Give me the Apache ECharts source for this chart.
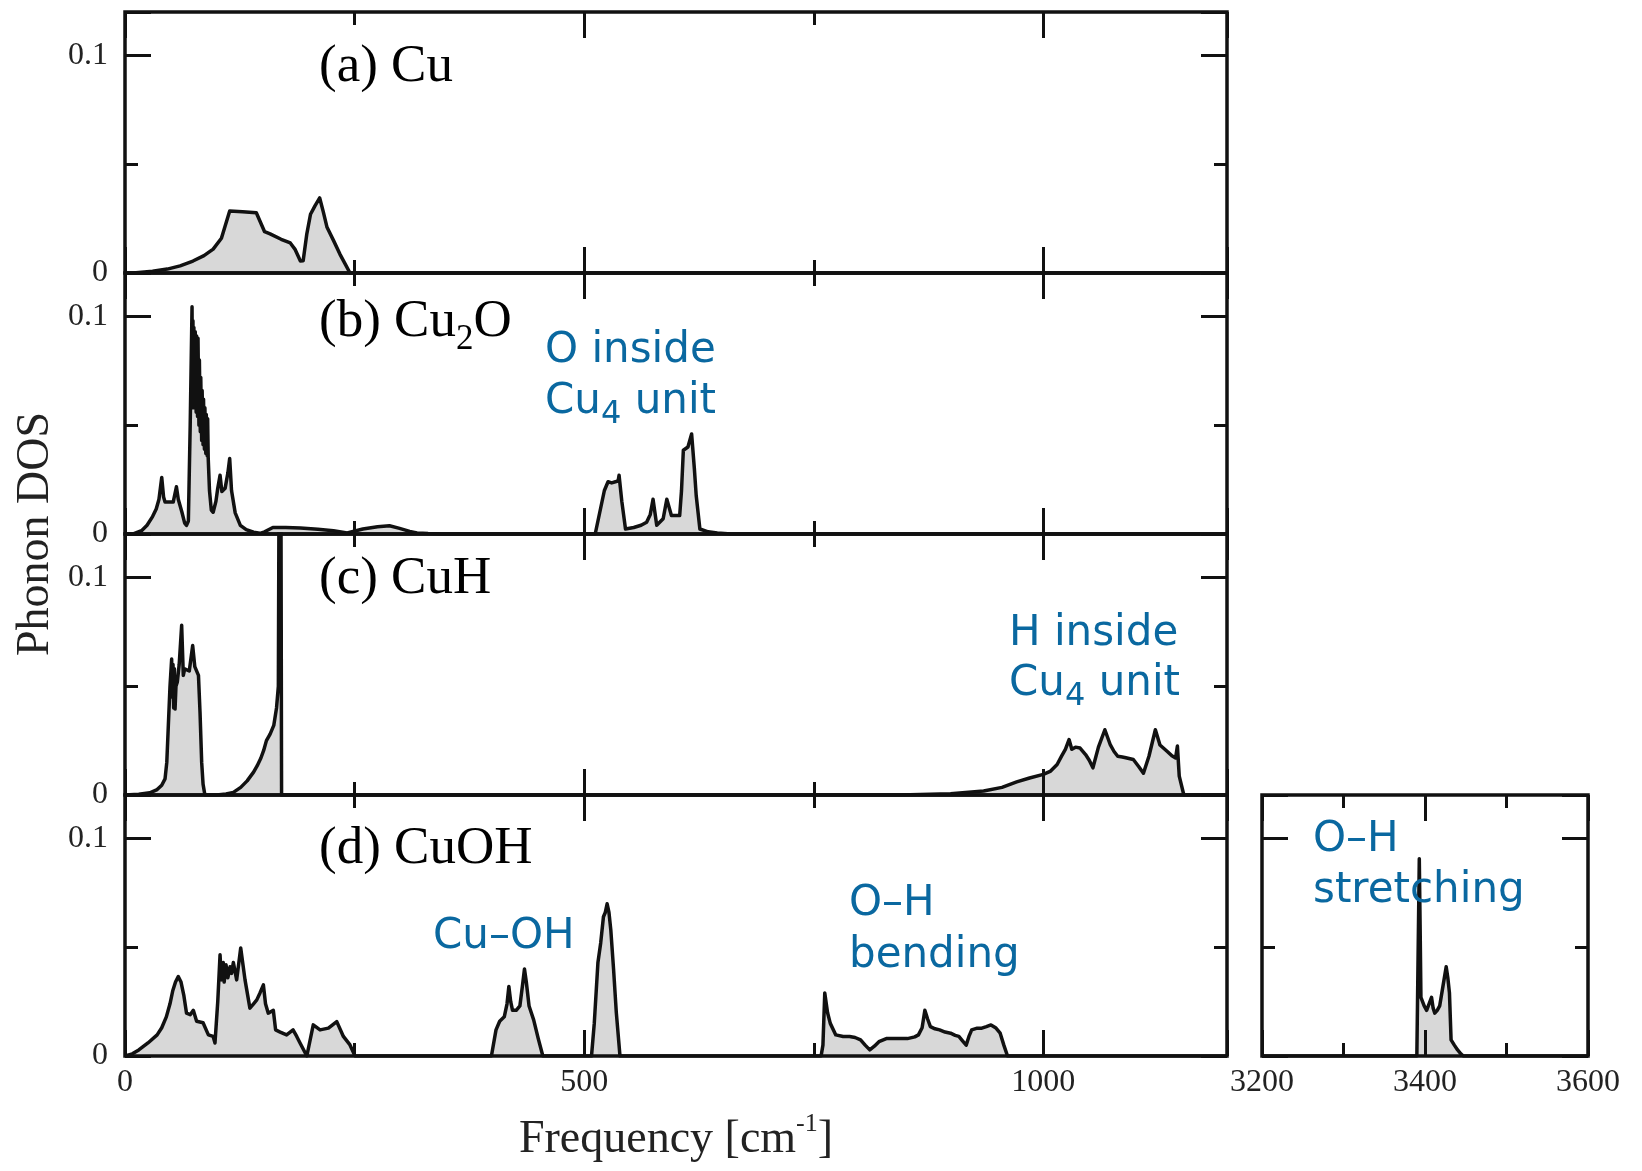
<!DOCTYPE html>
<html>
<head>
<meta charset="utf-8">
<script src="https://cdn.jsdelivr.net/npm/echarts@6/dist/echarts.min.js"></script>
<style>
  html, body { margin: 0; padding: 0; background: #fff; }
  #chart { width: 1642px; height: 1171px; }
</style>
</head>
<body>
<div id="chart"></div>
<script>
// ---- Phonon DOS data (frequency in cm^-1, DOS in arbitrary units) ----
const cuFreq = [0, 9, 30, 46, 60, 74, 86, 96, 105, 114,
  128, 143, 152, 158, 170, 180, 185, 191, 194, 198,
  202, 207, 212, 216, 220, 227, 234, 240, 245, 1200];
const cuDos = [0, 0, 0.0008, 0.0018, 0.0033, 0.0055, 0.008, 0.011, 0.016, 0.0285,
  0.0282, 0.0277, 0.019, 0.018, 0.0155, 0.0138, 0.011, 0.0055, 0.0056, 0.018,
  0.027, 0.031, 0.0345, 0.028, 0.021, 0.015, 0.0087, 0.004, 0, 0];

const cu2oFreq = [0, 9, 18, 24, 30, 34, 37, 40, 42, 43.6,
  48, 52.5, 56, 58, 62, 65, 67, 69, 71, 73,
  73.5, 74, 74.5, 75, 76, 76.5, 77.5, 78, 79, 79.5,
  80.5, 81, 82, 82.5, 83.5, 84, 85, 85.5, 86.5, 87,
  88, 88.5, 89.5, 90, 90.6, 92, 94, 96, 99, 101,
  103.5, 105.5, 109, 112, 114, 116, 120, 125.6, 132, 140,
  147, 152, 161, 175, 191, 210, 227, 242, 259, 275,
  288, 299, 310, 318, 330, 345, 505, 512, 517, 522,
  526, 530, 534, 537, 538, 541, 545, 554, 562, 568,
  572, 575, 579, 586, 590, 595, 604, 606, 608, 613,
  617, 620, 622, 626, 635, 645, 660, 1200];
const cu2oDos = [0, 0, 0.0015, 0.004, 0.008, 0.0115, 0.016, 0.026, 0.017, 0.0147,
  0.0147, 0.0147, 0.0217, 0.016, 0.01, 0.005, 0.004, 0.006, 0.05, 0.1045,
  0.06, 0.098, 0.058, 0.095, 0.058, 0.093, 0.056, 0.091, 0.054, 0.09,
  0.05, 0.08, 0.047, 0.072, 0.043, 0.066, 0.041, 0.062, 0.039, 0.058,
  0.037, 0.055, 0.036, 0.053, 0.035, 0.02, 0.011, 0.01, 0.015, 0.021,
  0.027, 0.0195, 0.021, 0.028, 0.0347, 0.02, 0.0097, 0.004, 0.002, 0.0008,
  0.0003, 0.001, 0.003, 0.003, 0.0028, 0.0022, 0.0015, 0.0005, 0.0023, 0.0033,
  0.0038, 0.0026, 0.0012, 0.0005, 0.0002, 0, 0, 0, 0.01, 0.02,
  0.024, 0.0235, 0.024, 0.0245, 0.027, 0.015, 0.0023, 0.003, 0.004, 0.0054,
  0.009, 0.016, 0.004, 0.007, 0.016, 0.0085, 0.0085, 0.02, 0.0385, 0.04,
  0.046, 0.03, 0.0177, 0.0023, 0.001, 0.0005, 0, 0];

const cuhFreq = [0, 15, 27, 35, 40, 43.6, 45.5, 47, 49, 50.8,
  51.5, 52.3, 53, 53.8, 54.5, 55.5, 57, 59, 61.7, 63.5,
  65, 67, 70, 73.7, 76, 80, 81.7, 83.5, 85, 87,
  100, 110, 118, 126, 133, 140, 144, 148, 151, 154,
  158, 162, 165, 167, 169, 170, 170.5, 844, 899, 935,
  955, 971, 985, 1000, 1008, 1015, 1020, 1024, 1028, 1031,
  1035, 1040, 1046, 1050, 1054, 1060, 1067, 1073, 1077, 1081,
  1086, 1091, 1098, 1104, 1109, 1115, 1122, 1127, 1135, 1140,
  1144, 1146, 1148, 1153, 1200];
const cuhDos = [0, 0.0003, 0.001, 0.0025, 0.0045, 0.0074, 0.015, 0.03, 0.05, 0.0625,
  0.045, 0.06, 0.04, 0.058, 0.0395, 0.05, 0.052, 0.06, 0.078, 0.055,
  0.058, 0.058, 0.057, 0.0687, 0.059, 0.055, 0.038, 0.015, 0.005, 0,
  0, 0.0005, 0.0012, 0.0035, 0.0065, 0.0105, 0.0135, 0.017, 0.0205, 0.025,
  0.028, 0.032, 0.04, 0.05, 0.3, 0.3, 0, 0, 0.0006, 0.0018,
  0.0035, 0.006, 0.0078, 0.0095, 0.011, 0.014, 0.018, 0.021, 0.0255, 0.021,
  0.022, 0.0216, 0.0186, 0.016, 0.0125, 0.022, 0.03, 0.023, 0.02, 0.0178,
  0.0175, 0.017, 0.0163, 0.013, 0.01, 0.0178, 0.03, 0.023, 0.02, 0.018,
  0.017, 0.0225, 0.0087, 0, 0];

const cuohFreq = [0, 8, 15, 25, 35, 40, 45, 49, 52, 55,
  58, 61, 64, 67, 71, 74.4, 78, 85, 90.8, 96,
  98, 101, 103.5, 105, 107, 108, 110, 112, 114.4, 116,
  118, 121.6, 126, 130.7, 136, 140, 143.5, 147, 150.7, 153,
  156, 161.5, 164, 169, 176, 183, 187, 190.6, 198, 205,
  212.4, 221.5, 230.6, 237.8, 245, 250.5, 399, 404, 408, 413,
  416, 418, 420, 422, 426, 430, 433, 435, 437, 440,
  445, 450, 455, 508, 511, 515, 518, 521, 523, 525,
  527, 529, 532, 535, 539, 758, 760, 762, 765, 768,
  774, 782, 789, 795, 801, 806, 811, 816, 821, 829,
  840, 852, 860, 864, 868, 871, 874, 877, 882, 887,
  893, 899, 904, 908, 912, 916, 919, 922, 928, 933,
  938, 943, 948, 953, 957, 961, 1200];
const cuohDos = [0, 0.001, 0.0028, 0.006, 0.0097, 0.013, 0.018, 0.024, 0.03, 0.034,
  0.0365, 0.034, 0.028, 0.0197, 0.019, 0.021, 0.016, 0.0153, 0.0097, 0.009,
  0.006, 0.025, 0.0465, 0.035, 0.043, 0.034, 0.042, 0.036, 0.041, 0.038,
  0.043, 0.035, 0.0497, 0.035, 0.022, 0.024, 0.0258, 0.029, 0.0327, 0.024,
  0.0197, 0.021, 0.012, 0.011, 0.0097, 0.012, 0.009, 0.006, 0, 0.0143,
  0.012, 0.0128, 0.0158, 0.009, 0.0051, 0, 0, 0.012, 0.016, 0.018,
  0.024, 0.032, 0.025, 0.021, 0.021, 0.023, 0.033, 0.04, 0.034, 0.023,
  0.0166, 0.008, 0, 0, 0.015, 0.043, 0.052, 0.064, 0.066, 0.07,
  0.066, 0.058, 0.04, 0.02, 0, 0, 0.005, 0.029, 0.02, 0.015,
  0.0097, 0.009, 0.009, 0.0085, 0.0074, 0.005, 0.0028, 0.0045, 0.0066, 0.008,
  0.008, 0.008, 0.0088, 0.0097, 0.013, 0.021, 0.017, 0.0135, 0.0125, 0.012,
  0.011, 0.0105, 0.0095, 0.009, 0.007, 0.005, 0.009, 0.012, 0.0128, 0.0128,
  0.0135, 0.0143, 0.013, 0.0105, 0.005, 0, 0];

// O-H stretching band of CuOH (high-frequency window)
const ohFreq = [3200, 3390, 3392, 3393, 3394, 3395, 3399, 3402, 3405, 3408,
  3410, 3412, 3415, 3418, 3422, 3426, 3428, 3430, 3432, 3436,
  3440, 3444, 3447, 3600];
const ohDos = [0, 0, 0, 0.0907, 0.06, 0.027, 0.023, 0.021, 0.024, 0.027,
  0.022, 0.0197, 0.021, 0.023, 0.032, 0.041, 0.036, 0.029, 0.0074, 0.005,
  0.0028, 0.001, 0, 0];

// ---- tick labels ----
const mainXLabels = [0, 500, 1000];
const insetXLabels = [3200, 3400, 3600];
const yLabels = [0, 0.1];

// ---- styling ----
const INK = '#111';
const TEXT = '#222';
const BLUE = '#0a68a0';
const SERIF = '"Liberation Serif", "Times New Roman", serif';
const SANS = '"DejaVu Sans", Verdana, sans-serif';

const option = {
  animation: false,
  backgroundColor: '#fff',
  grid: [], xAxis: [], yAxis: [], series: [], graphic: []
};

// one tick-only axis; the panel frame itself comes from the grid border
function tickAxis(gi, pos, range, iv, len, labels, margin) {
  const lab = labels ? {
    show: true, interval: 0, margin: margin,
    fontFamily: SERIF, fontSize: 32, color: TEXT,
    formatter: v => labels.some(l => Math.abs(l - v) < 1e-9) ? String(v) : ''
  } : { show: false };
  return {
    gridIndex: gi, type: 'value', position: pos,
    min: range[0], max: range[1], interval: iv, z: 10,
    axisLine: { show: false, onZero: false },
    axisTick: { show: true, inside: true, length: len, lineStyle: { color: INK, width: 3 } },
    splitLine: { show: false },
    axisLabel: lab
  };
}

function addPanel(box, xRange, xMajor, xMinor, xLabels, yLabs, xs, ys) {
  const gi = option.grid.length;
  option.grid.push(Object.assign({
    show: true, borderColor: INK, borderWidth: 3.5,
    backgroundColor: 'transparent', z: 10
  }, box));
  const xi = option.xAxis.length;
  option.xAxis.push(tickAxis(gi, 'bottom', xRange, xMajor, 26, xLabels, 11));
  option.xAxis.push(tickAxis(gi, 'bottom', xRange, xMinor, 13, null));
  option.xAxis.push(tickAxis(gi, 'top', xRange, xMajor, 26, null));
  option.xAxis.push(tickAxis(gi, 'top', xRange, xMinor, 13, null));
  const yi = option.yAxis.length;
  option.yAxis.push(tickAxis(gi, 'left', [0, 0.12], 0.1, 26, yLabs, 17));
  option.yAxis.push(tickAxis(gi, 'left', [0, 0.12], 0.05, 13, null));
  option.yAxis.push(tickAxis(gi, 'right', [0, 0.12], 0.1, 26, null));
  option.yAxis.push(tickAxis(gi, 'right', [0, 0.12], 0.05, 13, null));
  option.series.push({
    type: 'line', xAxisIndex: xi, yAxisIndex: yi,
    data: xs.map((x, i) => [x, ys[i]]),
    showSymbol: false, symbol: 'none', clip: true, z: 2,
    lineStyle: { color: INK, width: 3.5, join: 'round' },
    areaStyle: { color: '#d8d8d8', opacity: 1 }
  });
}

const mainRange = [0, 1200];
addPanel({ left: 125, top: 12, width: 1102, height: 261 }, mainRange, 500, 250, null, yLabels, cuFreq, cuDos);
addPanel({ left: 125, top: 273, width: 1102, height: 261 }, mainRange, 500, 250, null, yLabels, cu2oFreq, cu2oDos);
addPanel({ left: 125, top: 534, width: 1102, height: 261 }, mainRange, 500, 250, null, yLabels, cuhFreq, cuhDos);
addPanel({ left: 125, top: 795, width: 1102, height: 261 }, mainRange, 500, 250, mainXLabels, yLabels, cuohFreq, cuohDos);
addPanel({ left: 1262, top: 795, width: 326, height: 261 }, [3200, 3600], 200, 100, insetXLabels, null, ohFreq, ohDos);

// ---- text ----
function serifRich(size, color) {
  return {
    m: { fontSize: size, fontFamily: SERIF, fill: color, lineHeight: 64 },
    s: { fontSize: 35, fontFamily: SERIF, fill: color, lineHeight: 64, padding: [36, 0, 0, 0] },
    p: { fontSize: 26, fontFamily: SERIF, fill: color, lineHeight: 64, padding: [0, 0, 32, 0] }
  };
}
const sansRich = {
  m: { fontSize: 42, fontFamily: SANS, fill: BLUE, lineHeight: 60 },
  s: { fontSize: 32, fontFamily: SANS, fill: BLUE, lineHeight: 60, padding: [26, 0, 0, 0] }
};

function txt(x, y, text, rich) {
  option.graphic.push({
    type: 'text', x: x, y: y, z: 20,
    style: { text: text, rich: rich, align: 'left', verticalAlign: 'middle' }
  });
}

const titleRich = serifRich(53, '#000');
txt(319, 67, '{m|(a) Cu}', titleRich);
txt(319, 322, '{m|(b) Cu}{s|2}{m|O}', titleRich);
txt(319, 579, '{m|(c) CuH}', titleRich);
txt(319, 849, '{m|(d) CuOH}', titleRich);

txt(545, 351, '{m|O inside}', sansRich);
txt(545, 402, '{m|Cu}{s|4}{m| unit}', sansRich);
txt(1009, 634, '{m|H inside}', sansRich);
txt(1009, 684, '{m|Cu}{s|4}{m| unit}', sansRich);
txt(433, 937, '{m|Cu–OH}', sansRich);
txt(849, 904, '{m|O–H}', sansRich);
txt(849, 956, '{m|bending}', sansRich);
txt(1313, 840, '{m|O–H}', sansRich);
txt(1313, 891, '{m|stretching}', sansRich);

// axis titles
option.graphic.push({
  type: 'text', x: 676, y: 1140, z: 20,
  style: { text: '{m|Frequency [cm}{p|-1}{m|]}', rich: serifRich(46, TEXT), align: 'center', verticalAlign: 'middle' }
});
option.graphic.push({
  type: 'text', x: 36, y: 534, rotation: Math.PI / 2, z: 20,
  style: { text: 'Phonon DOS', font: '46px ' + SERIF, fill: TEXT, align: 'center', verticalAlign: 'middle' }
});

const chart = echarts.init(document.getElementById('chart'), null, { renderer: 'canvas' });
chart.setOption(option);
</script>
</body>
</html>
